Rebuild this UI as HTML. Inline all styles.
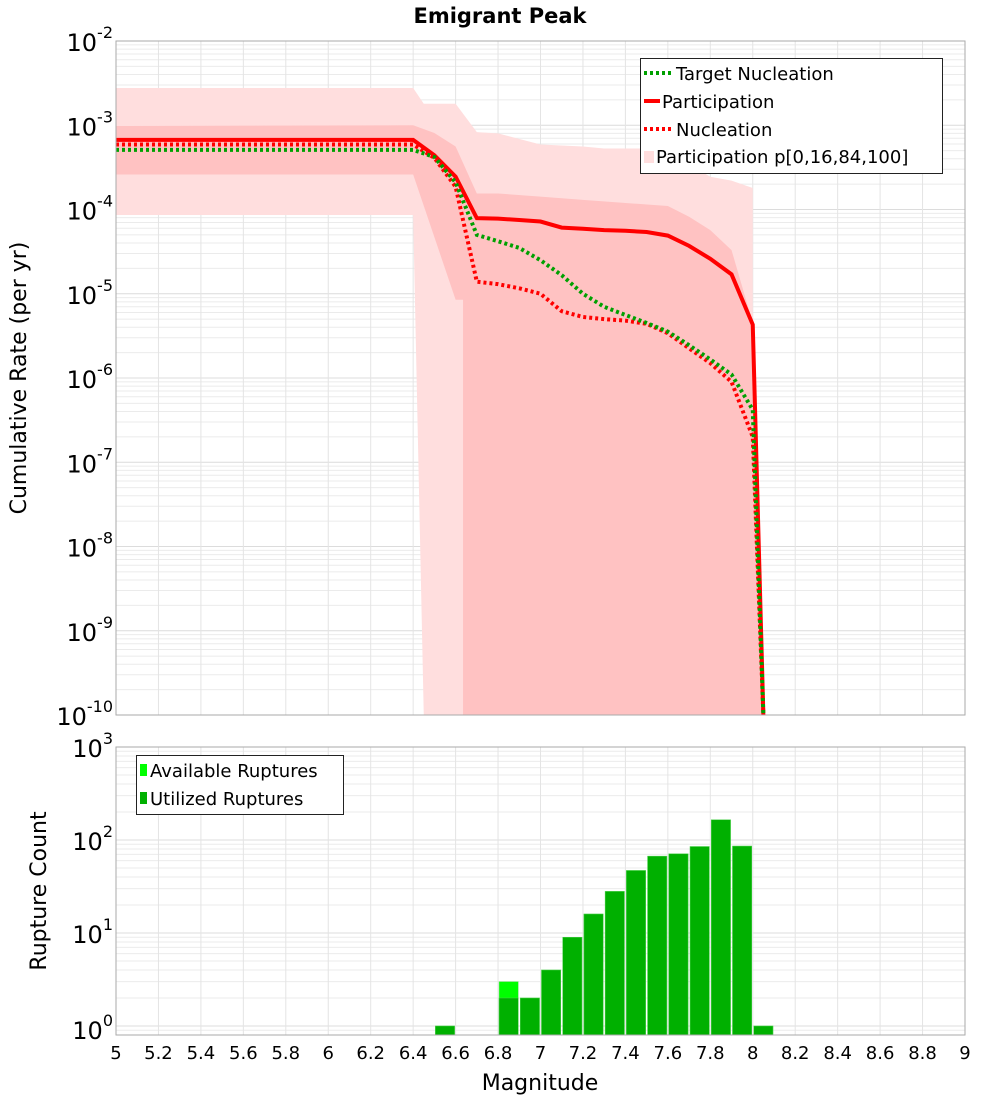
<!DOCTYPE html>
<html><head><meta charset="utf-8"><style>
body{margin:0;background:#fff;width:1000px;height:1100px;overflow:hidden}
svg{font-family:"DejaVu Sans","Liberation Sans",sans-serif}
</style></head><body>
<svg id="chart" width="1000" height="1100" xmlns="http://www.w3.org/2000/svg"></svg>
<script>
// ---- data ----
const magsP = [5,6.4,6.5,6.6,6.7,6.8,6.9,7.0,7.1,7.2,7.3,7.4,7.5,7.6,7.7,7.8,7.9,8.0,8.05];
const participation = [6.7e-4,6.7e-4,4.4e-4,2.45e-4,7.9e-5,7.8e-5,7.5e-5,7.2e-5,6.1e-5,5.9e-5,5.7e-5,5.6e-5,5.4e-5,4.9e-5,3.7e-5,2.6e-5,1.7e-5,4.3e-6,1e-10];
const nucleation = [5.9e-4,5.9e-4,4.1e-4,1.86e-4,1.39e-5,1.3e-5,1.16e-5,1.0e-5,6.2e-6,5.3e-6,5.0e-6,4.8e-6,4.4e-6,3.4e-6,2.25e-6,1.5e-6,9e-7,2e-7,1e-10];
const targetNucleation = [5.1e-4,5.1e-4,4.2e-4,2.1e-4,5.0e-5,4.2e-5,3.5e-5,2.5e-5,1.66e-5,1.0e-5,7e-6,5.6e-6,4.5e-6,3.55e-6,2.45e-6,1.66e-6,1.1e-6,4.2e-7,1e-10];
const outerUpperM = [5,6.4,6.45,6.6,6.7,6.8,7.0,7.2,7.3,7.5,7.6,7.8,7.9,8.0,8.0];
const outerUpperV = [2.77e-3,2.77e-3,1.8e-3,1.8e-3,8.3e-4,8.0e-4,5.9e-4,5.6e-4,5.3e-4,5.3e-4,4.9e-4,2.45e-4,2.2e-4,1.8e-4,1e-10];
const outerLowerM = [6.45,6.4,5];
const outerLowerV = [1e-10,8.6e-5,8.6e-5];
const innerUpperM = [5,6.4,6.5,6.6,6.7,6.8,7.0,7.2,7.6,7.7,7.8,7.9,8.0,8.05];
const innerUpperV = [9.8e-4,1e-3,8.1e-4,5.6e-4,1.55e-4,1.55e-4,1.42e-4,1.3e-4,1.1e-4,8.2e-5,5.7e-5,3.3e-5,4.5e-6,1e-10];
const innerLowerM = [6.635,6.635,6.6,6.4,5];
const innerLowerV = [1e-10,8.5e-6,8.5e-6,2.6e-4,2.6e-4];
const binStarts = [6.5,6.8,6.9,7.0,7.1,7.2,7.3,7.4,7.5,7.6,7.7,7.8,7.9,8.0];
const availableCounts = [1,3,2,4,9,16,28,47,67,71,85,165,86,1];
const utilizedCounts = [1,2,2,4,9,16,28,47,67,71,85,165,86,1];
const xTicks = [5,5.2,5.4,5.6,5.8,6,6.2,6.4,6.6,6.8,7,7.2,7.4,7.6,7.8,8,8.2,8.4,8.6,8.8,9];
const topExps = [-2,-3,-4,-5,-6,-7,-8,-9,-10];
const botExps = [0,1,2,3];

// ---- axes ----
const L=116,R=965,T1=41,B1=715,T2=747,B2=1035;
const x=m=>L+(m-5)/4*(R-L);
const y1=v=>T1+(-2-Math.log10(v))*(B1-T1)/8;
const y2=v=>{const b=1026;return b-Math.log10(v)*93;};
const NS='http://www.w3.org/2000/svg';
const svg=document.getElementById('chart');
function mk(tag,attrs,parent){const e=document.createElementNS(NS,tag);for(const k in attrs)e.setAttribute(k,attrs[k]);(parent||svg).appendChild(e);return e;}

function grid(top,bot,yf,emin,emax,name){
  const g=mk('g',{});
  
  
  for(let e=emin;e<emax;e++)for(let k=1;k<10;k++){const yy=yf(k*Math.pow(10,e));if(yy<top||yy>bot)continue;mk('line',{x1:L,x2:R,y1:yy,y2:yy,stroke:k==1?'#dcdcdc':'#ebebeb','stroke-width':1},g);}
  xTicks.forEach(t=>mk('line',{x1:x(t),x2:x(t),y1:top,y2:bot,stroke:'#e4e4e4','stroke-width':1},g));
}
grid(T1,B1,y1,-10,-2,'top-grid');
grid(T2,B2,y2,-1,3,'bottom-grid');

function poly(ms,vs){return ms.map((m,i)=>x(m)+','+Math.min(B1,y1(vs[i]))).join(' ');}
const outer=mk('polygon',{points:poly(outerUpperM,outerUpperV)+' '+poly(outerLowerM,outerLowerV),fill:'#ffdede'});


const inner=mk('polygon',{points:poly(innerUpperM,innerUpperV)+' '+poly(innerLowerM,innerLowerV),fill:'#ffc2c2'});



function line(vs,color,dash,name){const p=mk('polyline',{points:poly(magsP,vs),fill:'none',stroke:color,'stroke-width':4,'stroke-dasharray':dash||'none'});

}
line(participation,'#ff0000','','participation-line');
line(nucleation,'#ff0000','3,3','nucleation-line');
line(targetNucleation,'#00a000','3,3','target-nucleation-line');

// bars
const bw=(x(5.1)-x(5));
binStarts.forEach((b,i)=>{
  const x0=x(b)+1,w=bw-2;
  const ya=y2(availableCounts[i]);
  const ra=mk('rect',{x:x0,y:ya,width:w,height:B2-ya,fill:'#00ff00',stroke:'#70e070','stroke-width':0.5});
  
  
  const yu=y2(utilizedCounts[i]);
  const ru=mk('rect',{x:x0,y:yu,width:w,height:B2-yu,fill:'#00b000',stroke:'#50d050','stroke-width':0.5});
  
  
});

// frames
const f1=mk('rect',{x:L,y:T1,width:R-L,height:B1-T1,fill:'none',stroke:'#aaa'});


const f2=mk('rect',{x:L,y:T2,width:R-L,height:B2-T2,fill:'none',stroke:'#aaa'});



function powLabel(e,yy,name){const t=mk('text',{x:113,y:yy+10,'text-anchor':'end','font-size':24,fill:'#000'});


t.textContent='10';const s=mk('tspan',{'font-size':16,dy:-13},t);s.textContent=String(e);
// shift so superscript sits right of 10
}
topExps.forEach(e=>powLabel(e,y1(Math.pow(10,e)),'y-tick-label'));
botExps.forEach(e=>powLabel(e,y2(Math.pow(10,e))-(e==0?-3:0),'y2-tick-label'));
xTicks.forEach(t=>{const tx=mk('text',{x:x(t),y:1059,'text-anchor':'middle','font-size':18,fill:'#000'});


tx.textContent=String(t);});
</script>
<svg width="1000" height="1100" style="position:absolute;left:0;top:0" xmlns="http://www.w3.org/2000/svg" font-family="DejaVu Sans, Liberation Sans, sans-serif">
<text x="500" y="23" text-anchor="middle" font-size="21" font-weight="bold">Emigrant Peak</text>
<text transform="translate(26,378) rotate(-90)" text-anchor="middle" font-size="22">Cumulative Rate (per yr)</text>
<text transform="translate(46,891) rotate(-90)" text-anchor="middle" font-size="22">Rupture Count</text>
<text x="540" y="1090" text-anchor="middle" font-size="22">Magnitude</text>
<g>
<rect x="640.5" y="58.5" width="302" height="115" fill="#fff" stroke="#222"/>
<line x1="644" x2="672" y1="73" y2="73" stroke="#00a000" stroke-width="4" stroke-dasharray="3,3"/>
<text x="676" y="80" font-size="18">Target Nucleation</text>
<line x1="644" x2="660" y1="101" y2="101" stroke="#f00" stroke-width="4"/>
<text x="662" y="108" font-size="18">Participation</text>
<line x1="644" x2="672" y1="129" y2="129" stroke="#f00" stroke-width="4" stroke-dasharray="3,3"/>
<text x="676" y="136" font-size="18">Nucleation</text>
<rect x="644" y="151" width="10" height="12" fill="#ffdede"/>
<text x="656" y="163" font-size="18">Participation p[0,16,84,100]</text>
</g>
<g>
<rect x="136.5" y="755.5" width="207" height="59" fill="#fff" stroke="#222"/>
<rect x="140" y="764" width="7" height="12" fill="#00ff00"/>
<text x="150" y="777" font-size="18">Available Ruptures</text>
<rect x="140" y="792" width="7" height="12" fill="#00b000"/>
<text x="150" y="805" font-size="18">Utilized Ruptures</text>
</g>
</svg>
</body></html>
